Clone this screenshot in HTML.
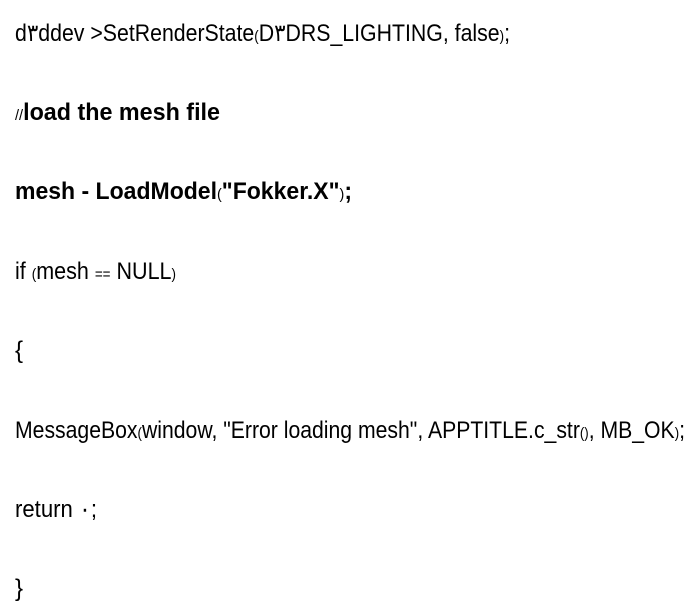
<!DOCTYPE html>
<html><head><meta charset="utf-8"><style>
html,body{margin:0;padding:0;background:#fff;width:698px;height:605px;overflow:hidden}
svg{display:block}
text{font-family:"Liberation Sans",Arial,sans-serif;font-size:24px;fill:#000}
.b{font-weight:bold}
.s{font-size:15px}
</style></head><body>
<svg width="698" height="605" viewBox="0 0 698 605" xmlns="http://www.w3.org/2000/svg">
<text x="15" y="41" textLength="495" lengthAdjust="spacingAndGlyphs">d۳ddev &gt;SetRenderState<tspan class="s">(</tspan>D۳DRS_LIGHTING, false<tspan class="s">)</tspan>;</text>
<text x="15" y="120" textLength="205" lengthAdjust="spacingAndGlyphs"><tspan class="s">//</tspan><tspan class="b">load the mesh file</tspan></text>
<text x="15" y="199" class="b" textLength="337" lengthAdjust="spacingAndGlyphs">mesh - LoadModel<tspan class="s" font-weight="normal">(</tspan>"Fokker.X"<tspan class="s" font-weight="normal">)</tspan>;</text>
<text x="15" y="279" textLength="161" lengthAdjust="spacingAndGlyphs">if <tspan class="s">(</tspan>mesh <tspan class="s">==</tspan> NULL<tspan class="s">)</tspan></text>
<text x="15" y="358">{</text>
<text x="15" y="438" textLength="670" lengthAdjust="spacingAndGlyphs">MessageBox<tspan class="s">(</tspan>window, "Error loading mesh", APPTITLE.c_str<tspan class="s">()</tspan>, MB_OK<tspan class="s">)</tspan>;</text>
<text x="15" y="517" textLength="82" lengthAdjust="spacingAndGlyphs">return ۰;</text>
<text x="15" y="596">}</text>
</svg>
</body></html>
